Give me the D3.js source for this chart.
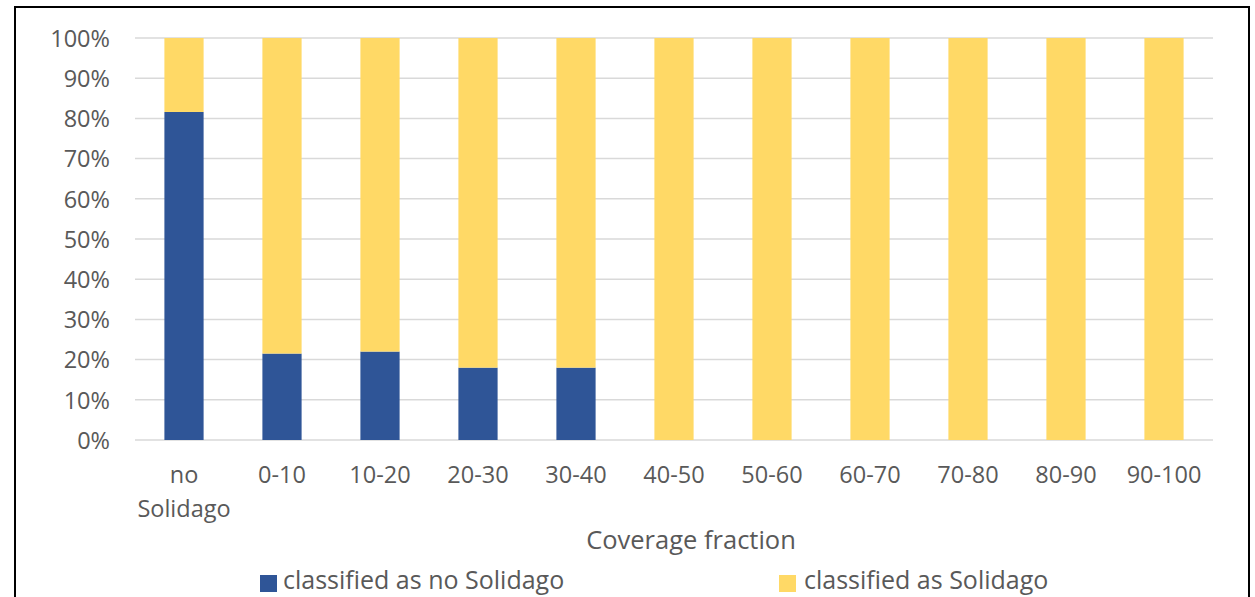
<!DOCTYPE html>
<html><head><meta charset="utf-8">
<script src="https://cdn.jsdelivr.net/npm/d3@7"></script>
<style>body{margin:0;background:#fff}svg{display:block}text{font-family:"Open Sans",sans-serif;fill:#595959}</style>
</head><body>
<svg id="c" width="1255" height="597"></svg>
<script>
const categories = ["no Solidago","0-10","10-20","20-30","30-40","40-50","50-60","60-70","70-80","80-90","90-100"];
const noSolidago = [81.6,21.5,22.0,18.0,18.0,0,0,0,0,0,0];
const solidago = noSolidago.map(v => 100 - v);
const yTicks = [0,10,20,30,40,50,60,70,80,90,100];
const seriesNames = ["classified as no Solidago","classified as Solidago"];
const colors = ["#2F5597","#FFD966"];

const svg = d3.select("#c");
svg.append("rect").attr("x",15).attr("y",7).attr("width",1234).attr("height",600)
  .attr("fill","#fff").attr("stroke","#000").attr("stroke-width",2);

const x = d3.scaleBand().domain(categories).range([135,1213]).paddingInner(0.6).paddingOuter(0.3);
const y = d3.scaleLinear().domain([0,100]).range([440,38]);

svg.append("g").selectAll("line").data(yTicks).join("line")
  .attr("x1",135).attr("x2",1213).attr("y1",d=>y(d)).attr("y2",d=>y(d))
  .attr("stroke","#d9d9d9").attr("stroke-width",1.5);

const yAxis = svg.append("g").attr("transform","translate(135,0)")
  .call(d3.axisLeft(y).tickValues(yTicks).tickFormat(d=>d+"%").tickSize(0).tickPadding(25));
yAxis.select(".domain").remove();
yAxis.selectAll("text").style("font-size","23.5px").style("font-family","'Open Sans',sans-serif")
  .attr("fill","#595959").attr("dy","0.35em");

const data = categories.map((c,i)=>({c, a:noSolidago[i], b:solidago[i]}));
const stack = d3.stack().keys(["a","b"])(data);
svg.append("g").selectAll("g").data(stack).join("g").attr("fill",(d,i)=>colors[i])
  .selectAll("rect").data(d=>d).join("rect")
  .attr("x",d=>x(d.data.c)).attr("width",x.bandwidth())
  .attr("y",d=>y(d[1])).attr("height",d=>y(d[0])-y(d[1]));

const xl = svg.append("g").selectAll("text").data(categories).join("text")
  .attr("x",d=>x(d)+x.bandwidth()/2).attr("y",483).attr("text-anchor","middle")
  .style("font-size","23.5px");
xl.each(function(d){
  const parts = d === "no Solidago" ? ["no","Solidago"] : [d];
  const t = d3.select(this);
  parts.forEach((p,i)=>t.append("tspan").attr("x",x(d)+x.bandwidth()/2).attr("dy",i?34:0).text(p));
});

svg.append("text").attr("x",691).attr("y",549).attr("text-anchor","middle")
  .style("font-size","25.5px").text("Coverage fraction");

const lg = [{x:260,tx:283},{x:779,tx:804}];
seriesNames.forEach((n,i)=>{
  svg.append("rect").attr("x",lg[i].x).attr("y",575).attr("width",17).attr("height",17).attr("fill",colors[i]);
  svg.append("text").attr("x",lg[i].tx).attr("y",589).style("font-size","25px").text(n);
});
</script>
</body></html>
